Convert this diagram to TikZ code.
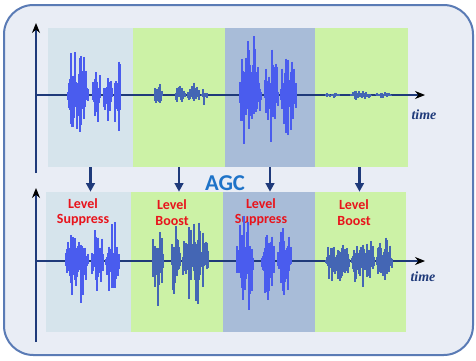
\documentclass[tikz,border=0pt]{standalone}
\usepackage{fontspec}
\setmainfont{Carlito}
\newfontfamily\timefont{Liberation Serif}
\usetikzlibrary{arrows.meta}

\definecolor{frameline}{HTML}{5A7BB5}
\definecolor{framefill}{HTML}{E9EDF5}
\definecolor{softblue}{HTML}{D6E4EC}
\definecolor{softgreen}{HTML}{CCF2A6}
\definecolor{darkpanel}{HTML}{A8BCD8}
\definecolor{brightwave}{HTML}{4A5CEE}
\definecolor{steelwave}{HTML}{4466B4}
\definecolor{navy}{HTML}{1F3A7A}
\definecolor{agcblue}{HTML}{1E73C8}
\definecolor{levelred}{HTML}{E8141C}

% one burst of samples: x from, x to, baseline, amplitude, colour
\newcommand{\wave}[5]{%
  \foreach \xx in {#1,...,#2}{%
    \pgfmathsetmacro{\env}{sqrt(abs(sin(180*(\xx-#1)/(#2-#1))))}%
    \pgfmathsetmacro{\up}{#4*\env*(0.1+0.9*rnd*sqrt(rnd))}%
    \pgfmathsetmacro{\dn}{#4*\env*(0.1+0.9*rnd*sqrt(rnd))}%
    \draw[#5, line width=0.9pt] (\xx,#3-\up) -- (\xx,#3+\dn);}}

\begin{document}
\begin{tikzpicture}[x=0.75pt, y=-0.75pt]
  \tikzset{
    panel/.style={draw=none, inner sep=0pt},
    axis/.style={draw=navy, line width=0.8pt, -{Stealth[black, length=7.5pt, width=6pt]}},
    flow/.style={draw=navy, line width=2pt, -{Triangle[length=6.5pt, width=6.5pt]}},
    level/.style={text=levelred, font=\bfseries\fontsize{10.5}{11.5}\selectfont, align=center},
    timelabel/.style={text=navy, font=\timefont\bfseries\itshape\fontsize{10.5}{12}\selectfont}
  }
  \pgfmathsetseed{11}
  \useasboundingbox (0,0) rectangle (476,361);

  % frame
  \draw[draw=frameline, fill=framefill, line width=1.5pt, rounded corners=22pt] (4,5) rectangle (473,355);

  % panels, input signal
  \node[panel, fill=softblue, minimum width=63.75pt, minimum height=104.25pt] (p1) at (90.5,97.5) {};
  \node[panel, fill=softgreen, minimum width=69pt, minimum height=104.25pt] (p2) at (179,97.5) {};
  \node[panel, fill=darkpanel, minimum width=67.5pt, minimum height=104.25pt] (p3) at (270,97.5) {};
  \node[panel, fill=softgreen, minimum width=69.75pt, minimum height=104.25pt] (p4) at (361.5,97.5) {};

  % panels, output signal
  \node[panel, fill=softblue, minimum width=63.75pt, minimum height=105pt] (q1) at (88.5,262) {};
  \node[panel, fill=softgreen, minimum width=69pt, minimum height=105pt] (q2) at (177,262) {};
  \node[panel, fill=darkpanel, minimum width=69pt, minimum height=105pt] (q3) at (269,262) {};
  \node[panel, fill=softgreen, minimum width=68.25pt, minimum height=105pt] (q4) at (360.5,262) {};

  % axes
  \coordinate (ybot1) at (36,173);
  \coordinate (ytop1) at (36,23);
  \coordinate (xleft1) at (36,95);
  \coordinate (xright1) at (425,95);
  \coordinate (ybot2) at (36,342);
  \coordinate (ytop2) at (36,188);
  \coordinate (xleft2) at (36,261);
  \coordinate (xright2) at (425,261);
  \draw[axis] (ybot1) -- (ytop1);
  \draw[axis] (xleft1) -- (xright1);
  \draw[axis] (ybot2) -- (ytop2);
  \draw[axis] (xleft2) -- (xright2);
  \node[timelabel] (t1) at (424,115) {time};
  \node[timelabel] (t2) at (423,277) {time};

  % gain control
  \node[text=agcblue, font=\bfseries\fontsize{17}{18}\selectfont] (agc) at (225,183) {AGC};
  \draw[flow] (p1.south) -- (p1.south |- q1.north);
  \draw[flow] (p2.south) -- (p2.south |- q2.north);
  \draw[flow] (p3.south) -- (p3.south |- q3.north);
  \draw[flow] ([xshift=-1.5pt]p4.south) -- ([xshift=-1.5pt]p4.south |- q4.north);

  \node[level] (lab1) at (83,212.5) {Level\\Suppress};
  \node[level] (lab2) at (172,212.5) {Level\\Boost};
  \node[level] (lab3) at (261,212.5) {Level\\Suppress};
  \node[level] (lab4) at (354,212.5) {Level\\Boost};

  % input waveform
  \wave{67}{89}{95}{70}{brightwave}
  \wave{92}{101}{95}{40}{brightwave}
  \wave{103}{113}{95}{35}{brightwave}
  \wave{114}{121}{95}{56}{brightwave}
  \wave{154}{163}{95}{17}{steelwave}
  \wave{175}{186}{95}{13}{steelwave}
  \wave{187}{200}{95}{17}{steelwave}
  \wave{201}{208}{95}{11}{steelwave}
  \wave{239}{262}{95}{72}{brightwave}
  \wave{264}{279}{95}{62}{brightwave}
  \wave{280}{297}{95}{52}{brightwave}
  \wave{325}{340}{95}{4}{steelwave}
  \wave{350}{372}{95}{6}{steelwave}
  \wave{375}{392}{95}{4}{steelwave}

  % output waveform
  \wave{65}{89}{261}{54}{brightwave}
  \wave{91}{104}{261}{38}{brightwave}
  \wave{105}{120}{261}{48}{brightwave}
  \wave{152}{164}{261}{52}{steelwave}
  \wave{171}{181}{261}{40}{steelwave}
  \wave{182}{209}{261}{48}{steelwave}
  \wave{236}{254}{261}{60}{brightwave}
  \wave{261}{275}{261}{52}{brightwave}
  \wave{277}{292}{261}{48}{brightwave}
  \wave{325}{350}{261}{26}{steelwave}
  \wave{351}{375}{261}{32}{steelwave}
  \wave{376}{393}{261}{26}{steelwave}
\end{tikzpicture}
\end{document}
